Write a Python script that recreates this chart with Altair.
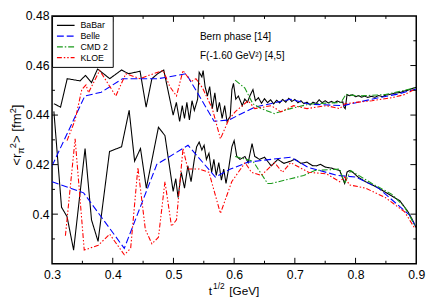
import altair as alt
import pandas as pd

# ---------------- data ----------------
babar_up_t = [0.303, 0.314, 0.325, 0.346, 0.355, 0.365, 0.375, 0.395, 0.4145, 0.426, 0.445, 0.455, 0.4645, 0.475, 0.484,
              0.4995, 0.5048, 0.5102, 0.5145, 0.5182, 0.5221, 0.5263, 0.5306, 0.5344, 0.5398, 0.5424, 0.5468, 0.5489,
              0.5521, 0.556, 0.5597, 0.564, 0.5682, 0.5721, 0.5758, 0.5802, 0.5844, 0.5882, 0.5935, 0.5963, 0.5989,
              0.6027, 0.6069, 0.6134,
              0.6175, 0.622, 0.626, 0.631, 0.635, 0.640, 0.645, 0.650, 0.655, 0.660, 0.665, 0.670, 0.675, 0.680, 0.685,
              0.690, 0.695, 0.700, 0.705, 0.710, 0.715, 0.720, 0.725, 0.730, 0.735, 0.740, 0.745, 0.750, 0.755, 0.760,
              0.765, 0.770, 0.775, 0.779, 0.781, 0.783, 0.786, 0.790, 0.795, 0.800, 0.805, 0.810, 0.815, 0.820, 0.826,
              0.832, 0.838, 0.844, 0.850, 0.856, 0.862, 0.868, 0.874, 0.880, 0.886, 0.892, 0.897, 0.900]
babar_up_r = [0.4446, 0.4432, 0.4547, 0.4538, 0.4560, 0.4531, 0.4586, 0.4547, 0.4582, 0.4567, 0.4577, 0.4432, 0.4547,
              0.4569, 0.4582, 0.4400, 0.4451, 0.4374, 0.4438, 0.4387, 0.4451, 0.4380, 0.4458, 0.4419, 0.4464, 0.4573,
              0.4554, 0.4580, 0.4515, 0.4477, 0.4515, 0.4426, 0.4490, 0.4413, 0.4451, 0.4387, 0.4438, 0.4374, 0.4395,
              0.4503, 0.4528, 0.4464, 0.4477, 0.4438,
              0.4465, 0.4452, 0.4478, 0.4503, 0.4458, 0.4470, 0.4448, 0.4466, 0.4450, 0.4462, 0.4445, 0.4460, 0.4449,
              0.4463, 0.4452, 0.4468, 0.4455, 0.4463, 0.4450, 0.4458, 0.4446, 0.4452, 0.4441, 0.4452, 0.4447, 0.4462,
              0.4450, 0.4458, 0.4449, 0.4455, 0.4450, 0.4457, 0.4451, 0.4453, 0.4432, 0.4426, 0.4483, 0.4478, 0.4482,
              0.4474, 0.4479, 0.4472, 0.4477, 0.4471, 0.4476, 0.4472, 0.4479, 0.4474, 0.4481, 0.4483, 0.4487, 0.4490,
              0.4491, 0.4497, 0.4500, 0.4506, 0.4510, 0.4512]

babar_lo_t = [0.303, 0.3156, 0.3247, 0.3355, 0.3544, 0.365, 0.3758, 0.3947, 0.4145, 0.427, 0.436, 0.4457, 0.4553,
              0.4753, 0.486, 0.4995, 0.5038, 0.5076, 0.5129, 0.5182, 0.5237, 0.5290, 0.5344, 0.5382, 0.5424, 0.5468,
              0.5505, 0.5543, 0.5585, 0.5629, 0.5666, 0.5705, 0.5747, 0.5790, 0.5828, 0.5866, 0.5908, 0.5963, 0.6000,
              0.6043, 0.6097, 0.6177, 0.6231, 0.6295, 0.6339, 0.6419, 0.650, 0.661, 0.672, 0.682, 0.693, 0.700, 0.710,
              0.720, 0.729, 0.736, 0.742, 0.750, 0.760, 0.768, 0.774, 0.778, 0.782, 0.786, 0.790, 0.796, 0.804, 0.8166,
              0.826, 0.838, 0.848, 0.860, 0.873, 0.8866, 0.893, 0.900]
babar_lo_r = [0.4415, 0.4028, 0.3990, 0.3855, 0.4265, 0.3977, 0.3890, 0.4253, 0.4272, 0.4419, 0.4214, 0.4265, 0.4105,
              0.4351, 0.4317, 0.4092, 0.4143, 0.4067, 0.4169, 0.4105, 0.4195, 0.4131, 0.4221, 0.4272, 0.4291, 0.4259,
              0.4278, 0.4221, 0.4246, 0.4169, 0.4221, 0.4156, 0.4208, 0.4137, 0.4182, 0.4124, 0.4182, 0.4272, 0.4297,
              0.4233, 0.4221, 0.4233, 0.4208, 0.4285, 0.4233, 0.4221, 0.4230, 0.4195, 0.4221, 0.4205, 0.4214, 0.4222,
              0.4205, 0.4210, 0.4196, 0.4195, 0.4201, 0.4190, 0.4186, 0.4180, 0.4176, 0.4150, 0.4124, 0.4170, 0.4176,
              0.4168, 0.4150, 0.4131, 0.4120, 0.4105, 0.4090, 0.4073, 0.4054, 0.4009, 0.3980, 0.3945]

belle_up_t = [0.300, 0.354, 0.381, 0.416, 0.475, 0.521, 0.567, 0.591, 0.634, 0.693, 0.725, 0.779, 0.838, 0.870, 0.900]
belle_up_r = [0.4195, 0.4477, 0.4492, 0.4547, 0.4547, 0.4567, 0.4375, 0.4380, 0.4432, 0.4464, 0.4444, 0.4438, 0.4470,
              0.4485, 0.4505]
belle_lo_t = [0.300, 0.352, 0.419, 0.4726, 0.524, 0.569, 0.594, 0.623, 0.650, 0.693, 0.7226, 0.771, 0.800, 0.838,
              0.868, 0.889, 0.900]
belle_lo_r = [0.4131, 0.4086, 0.3862, 0.4201, 0.4278, 0.4150, 0.4182, 0.4210, 0.4218, 0.4230, 0.4188, 0.4156, 0.4150,
              0.4105, 0.4041, 0.3996, 0.3945]

cmd2_up_t = [0.6016, 0.6177, 0.631, 0.645, 0.666, 0.693, 0.725, 0.776, 0.784, 0.806, 0.849, 0.897]
cmd2_up_r = [0.4541, 0.4509, 0.4445, 0.4426, 0.4406, 0.4426, 0.4445, 0.4451, 0.4483, 0.4477, 0.4483, 0.4509]
cmd2_lo_t = [0.6016, 0.631, 0.655, 0.661, 0.693, 0.7145, 0.733, 0.774, 0.782, 0.792, 0.827, 0.860, 0.881, 0.897]
cmd2_lo_r = [0.4233, 0.4214, 0.4124, 0.4124, 0.4143, 0.4156, 0.4176, 0.4182, 0.4124, 0.4176, 0.4124, 0.4080, 0.4028,
             0.3958]

kloe_up_t = [0.3247, 0.338, 0.349, 0.356, 0.360, 0.3785, 0.405, 0.4215, 0.445, 0.467, 0.483, 0.494, 0.505, 0.5157,
             0.529, 0.537, 0.548, 0.564, 0.5774, 0.591, 0.6016, 0.623, 0.634, 0.661, 0.677, 0.698, 0.720, 0.752, 0.774,
             0.782, 0.800, 0.827, 0.860, 0.881, 0.897]
kloe_up_r = [0.4297, 0.4380, 0.4503, 0.4522, 0.4490, 0.4580, 0.4477, 0.4567, 0.4547, 0.4567, 0.4580, 0.4515, 0.4477,
             0.4580, 0.4535, 0.4547, 0.4509, 0.4426, 0.4304, 0.4381, 0.4413, 0.4458, 0.4426, 0.4438, 0.4413, 0.4438,
             0.4426, 0.4438, 0.4426, 0.4445, 0.4451, 0.4458, 0.4470, 0.4483, 0.4503]
kloe_lo_t = [0.322, 0.338, 0.353, 0.376, 0.395, 0.419, 0.4295, 0.4414, 0.4537, 0.4645, 0.4753, 0.486, 0.4968, 0.505,
             0.5157, 0.5237, 0.5425, 0.5585, 0.5774, 0.596, 0.618, 0.6285, 0.6445, 0.6665, 0.6795, 0.693, 0.7226,
             0.752, 0.774, 0.782, 0.790, 0.8166, 0.849, 0.881, 0.897]
kloe_lo_r = [0.3913, 0.4304, 0.3855, 0.3874, 0.3919, 0.3836, 0.3862, 0.4188, 0.3938, 0.3880, 0.3907, 0.4131, 0.3951,
             0.3977, 0.4265, 0.4182, 0.4182, 0.4169, 0.4003, 0.4131, 0.4208, 0.4169, 0.4156, 0.4208, 0.4169, 0.4208,
             0.4169, 0.4163, 0.4131, 0.4150, 0.4118, 0.4105, 0.4067, 0.4009, 0.3945]

series_names = ["BaBar", "Belle", "CMD 2", "KLOE"]
series_colors = ["#000000", "#0000ff", "#1a9a1a", "#ff0000"]
series_dashes = [[1, 0], [7, 3], [6, 2, 1.5, 2], [5, 2, 1.5, 2, 1.5, 2]]

x_labels = [0.3, 0.4, 0.5, 0.6, 0.7, 0.8, 0.9]
y_labels = [0.40, 0.42, 0.44, 0.46, 0.48]
x_major = [0.4, 0.5, 0.6, 0.7, 0.8]
x_minor = [0.35, 0.45, 0.55, 0.65, 0.75, 0.85]
y_major = [0.40, 0.42, 0.44, 0.46]
y_minor = [0.39, 0.41, 0.43, 0.45, 0.47]

# ---------------- table ----------------
rows = []
def add(name, band, ts, rs):
    assert len(ts) == len(rs), (name, band, len(ts), len(rs))
    for i, (t, r) in enumerate(zip(ts, rs)):
        rows.append({"t": t, "r": r, "set": name, "key": name + "-" + band, "order": i})

add("BaBar", "up", babar_up_t, babar_up_r)
add("BaBar", "lo", babar_lo_t, babar_lo_r)
add("Belle", "up", belle_up_t, belle_up_r)
add("Belle", "lo", belle_lo_t, belle_lo_r)
add("CMD 2", "up", cmd2_up_t, cmd2_up_r)
add("CMD 2", "lo", cmd2_lo_t, cmd2_lo_r)
add("KLOE", "up", kloe_up_t, kloe_up_r)
add("KLOE", "lo", kloe_lo_t, kloe_lo_r)
df = pd.DataFrame(rows)

W, H = 372, 253
FONT = "Liberation Sans"

xscale = alt.Scale(domain=[0.3, 0.9], nice=False, zero=False)
yscale = alt.Scale(domain=[0.38, 0.48], nice=False, zero=False)

ax_x = alt.Axis(values=x_labels, format=".1f", title=None, grid=False, ticks=False, tickSize=0,
                domain=False, labelFontSize=12.5, labelFont=FONT, labelColor="black",
                labelPadding=5, labelFlush=False)
ax_y = alt.Axis(values=y_labels, format=".2~f", title=None, grid=False, ticks=False, tickSize=0,
                domain=False, labelFontSize=12.5, labelFont=FONT, labelColor="black",
                labelPadding=3, labelFlush=False)

legend_opts = dict(title=None, orient="top-left", offset=0, padding=4, strokeColor="black",
                   fillColor="white", symbolType="M-1,0L3,0", symbolSize=81, symbolStrokeWidth=1.2,
                   labelFontSize=9, labelFont=FONT, labelColor="black", labelOffset=14, rowPadding=0)


def txt(s, x, y, size, angle=0, baseline="alphabetic"):
    d = pd.DataFrame({"s": [s]})
    return alt.Chart(d).mark_text(font=FONT, fontSize=size, color="black", align="left",
                                  baseline=baseline, angle=angle).encode(
        text="s:N", x=alt.value(x), y=alt.value(y))


def xticks(vals, length):
    d = pd.DataFrame({"t": vals})
    base = alt.Chart(d).mark_rule(color="black", strokeWidth=1)
    return [base.encode(x=alt.X("t:Q", scale=xscale, axis=ax_x), y=alt.value(H), y2=alt.value(H - length)),
            base.encode(x=alt.X("t:Q", scale=xscale, axis=ax_x), y=alt.value(0), y2=alt.value(length))]


def yticks(vals, length):
    d = pd.DataFrame({"r": vals})
    base = alt.Chart(d).mark_rule(color="black", strokeWidth=1)
    return [base.encode(y=alt.Y("r:Q", scale=yscale, axis=ax_y), x=alt.value(0), x2=alt.value(length)),
            base.encode(y=alt.Y("r:Q", scale=yscale, axis=ax_y), x=alt.value(W), x2=alt.value(W - length))]


def build(legend_encode):
    opts = dict(legend_opts)
    if legend_encode is not None:
        opts["encode"] = legend_encode
    legend = alt.Legend(**opts)
    lines = alt.Chart(df).mark_line(strokeWidth=1.1, clip=True).encode(
        x=alt.X("t:Q", scale=xscale, axis=ax_x),
        y=alt.Y("r:Q", scale=yscale, axis=ax_y),
        color=alt.Color("set:N", scale=alt.Scale(domain=series_names, range=series_colors), legend=legend),
        strokeDash=alt.StrokeDash("set:N", scale=alt.Scale(domain=series_names, range=series_dashes),
                                  legend=legend),
        detail="key:N",
        order="order:Q",
    )
    layers = [lines]
    layers += xticks(x_major, 6) + xticks(x_minor, 3) + yticks(y_major, 6) + yticks(y_minor, 3)

    # annotations
    layers.append(txt("Bern phase [14]", 151, 21.5, 10.3, baseline="middle"))
    layers.append(txt("F(-1.60 GeV²) [4,5]", 151, 41, 10.3, baseline="middle"))

    # x title: t^{1/2} [GeV]
    layers.append(txt("t", 160, 285, 12))
    layers.append(txt("1/2", 164.5, 279, 8.5))
    layers.append(txt("[GeV]", 181, 285, 12))

    # y title: <r_pi^2> [fm^2]  (rotated, reads upward)
    yx_main, yx_sup, yx_sub = -32, -37, -29
    layers.append(txt("<r", yx_main, 153, 13.5, angle=270))
    layers.append(txt("π", yx_sub, 140.6, 9.5, angle=270))
    layers.append(txt("2", yx_sup, 135.1, 9.5, angle=270))
    layers.append(txt("> [fm", yx_main, 129.8, 13.5, angle=270))
    layers.append(txt("2", yx_sup, 99.4, 9.5, angle=270))
    layers.append(txt("]", yx_main, 94.1, 13.5, angle=270))

    ch = alt.layer(*layers).properties(
        width=W, height=H,
        autosize=alt.AutoSizeParams(type="none"),
        padding={"left": 45, "top": 5, "right": 12, "bottom": 38},
        background="white",
    ).configure_view(stroke="black", strokeWidth=1.5)
    ch.to_dict()  # validate
    return ch


chart = None
for enc in [
    {"symbols": {"update": {"stroke": {"signal": "scale('color', datum.value)"}}}},
    {"symbols": {"update": {"stroke": {"value": {"expr": "scale('color', datum.value)"}}}}},
    None,
]:
    try:
        chart = build(enc)
        break
    except Exception:
        chart = None

chart.save("out.html", embed_options={"renderer": "svg", "actions": False})
